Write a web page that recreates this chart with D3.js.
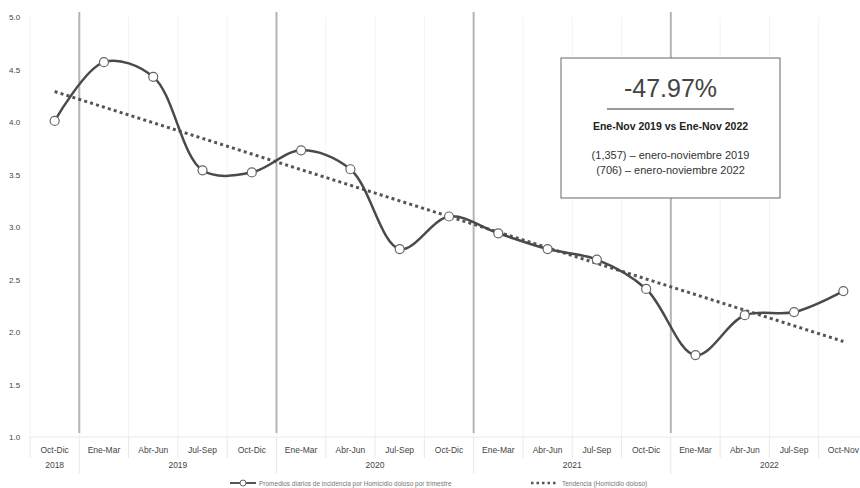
<!DOCTYPE html>
<html><head><meta charset="utf-8">
<script src="https://cdn.jsdelivr.net/npm/d3@7"></script>
<style>body{margin:0;background:#fff;font-family:"Liberation Sans",Arial,sans-serif}</style>
</head><body><svg id="c" width="860" height="488"></svg>
<script>
const categories = ["Oct-Dic","Ene-Mar","Abr-Jun","Jul-Sep","Oct-Dic","Ene-Mar","Abr-Jun","Jul-Sep","Oct-Dic","Ene-Mar","Abr-Jun","Jul-Sep","Oct-Dic","Ene-Mar","Abr-Jun","Jul-Sep","Oct-Nov"];
const years = [{label:"2018",start:0,end:0},{label:"2019",start:1,end:4},{label:"2020",start:5,end:8},{label:"2021",start:9,end:12},{label:"2022",start:13,end:16}];
const values = [4.01,4.57,4.43,3.54,3.52,3.73,3.55,2.79,3.10,2.94,2.79,2.69,2.41,1.78,2.16,2.19,2.39];
const trendStart = 4.29, trendEnd = 1.91;
const yTicks = [1.0,1.5,2.0,2.5,3.0,3.5,4.0,4.5,5.0];
const boxTexts = {pct:"-47.97%", sub:"Ene-Nov 2019 vs Ene-Nov 2022", l1:"(1,357) – enero-noviembre 2019", l2:"(706) – enero-noviembre 2022"};
const legendLabels = ["Promedios diarios de incidencia por Homicidio doloso por trimestre","Tendencia (Homicidio doloso)"];

const svg = d3.select("#c");
const x = d3.scaleBand().domain(d3.range(categories.length)).range([30, 868]).padding(0);
const y = d3.scaleLinear().domain([1,5]).range([437,17]);
const cx = i => x(i) + x.bandwidth()/2;

const bounds = d3.range(categories.length+1).map(i => i===categories.length ? x.range()[1] : x(i));
svg.append("g").selectAll("line").data(bounds).join("line")
  .attr("x1",d=>d).attr("x2",d=>d).attr("y1",17).attr("y2",437)
  .attr("stroke","#f2f2f2").attr("stroke-width",1);
svg.append("g").selectAll("line").data(bounds).join("line")
  .attr("x1",d=>d).attr("x2",d=>d).attr("y1",437).attr("y2",458)
  .attr("stroke","#e8e8e8").attr("stroke-width",1);
const yearB = years.slice(1).map(yr => x(yr.start));
svg.append("g").selectAll("line").data(yearB).join("line")
  .attr("x1",d=>d).attr("x2",d=>d).attr("y1",458).attr("y2",474)
  .attr("stroke","#e8e8e8").attr("stroke-width",1);
svg.append("g").selectAll("line").data(yearB).join("line")
  .attr("x1",d=>d).attr("x2",d=>d).attr("y1",12).attr("y2",433)
  .attr("stroke","#b4b4b4").attr("stroke-width",2);
svg.append("line").attr("x1",30).attr("x2",868).attr("y1",437).attr("y2",437).attr("stroke","#eaeaea");

svg.append("g").selectAll("text").data(yTicks).join("text")
  .attr("x",9).attr("y",d=>y(d)+3).attr("font-size",8).attr("fill","#444").text(d=>d.toFixed(1));

svg.append("g").selectAll("text").data(categories).join("text")
  .attr("x",(d,i)=>cx(i)).attr("y",453).attr("text-anchor","middle").attr("font-size",8.5).attr("fill","#444").text(d=>d);
svg.append("g").selectAll("text").data(years).join("text")
  .attr("x",d=>(x(d.start)+x(d.end)+x.bandwidth())/2).attr("y",468).attr("text-anchor","middle").attr("font-size",8.5).attr("fill","#444").text(d=>d.label);

svg.append("line").attr("x1",cx(0)).attr("x2",cx(categories.length-1)).attr("y1",y(trendStart)).attr("y2",y(trendEnd))
  .attr("stroke","#555").attr("stroke-width",3).attr("stroke-dasharray","3,3.2");

const line = d3.line().x((d,i)=>cx(i)).y(d=>y(d)).curve(d3.curveCatmullRom.alpha(0.5));
svg.append("path").datum(values).attr("d",line).attr("fill","none").attr("stroke","#4a4a4a").attr("stroke-width",2.5);
svg.append("g").selectAll("circle").data(values).join("circle")
  .attr("cx",(d,i)=>cx(i)).attr("cy",d=>y(d)).attr("r",4.5).attr("fill","#fff").attr("stroke","#666").attr("stroke-width",1.2);

const bx=561, by=58, bw=219, bh=140;
svg.append("rect").attr("x",bx).attr("y",by).attr("width",bw).attr("height",bh).attr("fill","#fff").attr("stroke","#666").attr("stroke-width",1);
const mid = bx+bw/2;
svg.append("text").attr("x",mid).attr("y",97).attr("text-anchor","middle").attr("font-size",25).attr("fill","#444").text(boxTexts.pct);
svg.append("line").attr("x1",607).attr("x2",734).attr("y1",109).attr("y2",109).attr("stroke","#333").attr("stroke-width",1);
svg.append("text").attr("x",mid).attr("y",130).attr("text-anchor","middle").attr("font-size",10.5).attr("font-weight","bold").attr("fill","#222").text(boxTexts.sub);
svg.append("text").attr("x",mid).attr("y",159).attr("text-anchor","middle").attr("font-size",11).attr("fill","#333").text(boxTexts.l1);
svg.append("text").attr("x",mid).attr("y",174).attr("text-anchor","middle").attr("font-size",11).attr("fill","#333").text(boxTexts.l2);

const ly = 483;
svg.append("line").attr("x1",230).attr("x2",256).attr("y1",ly).attr("y2",ly).attr("stroke","#555").attr("stroke-width",2);
svg.append("circle").attr("cx",243).attr("cy",ly).attr("r",3).attr("fill","#fff").attr("stroke","#666");
svg.append("text").attr("x",259).attr("y",ly+2.5).attr("font-size",6.5).attr("fill","#777").text(legendLabels[0]);
svg.append("line").attr("x1",531).attr("x2",558).attr("y1",ly).attr("y2",ly).attr("stroke","#555").attr("stroke-width",2.5).attr("stroke-dasharray","2.5,3");
svg.append("text").attr("x",562).attr("y",ly+2.5).attr("font-size",6.5).attr("fill","#777").text(legendLabels[1]);
</script></body></html>
